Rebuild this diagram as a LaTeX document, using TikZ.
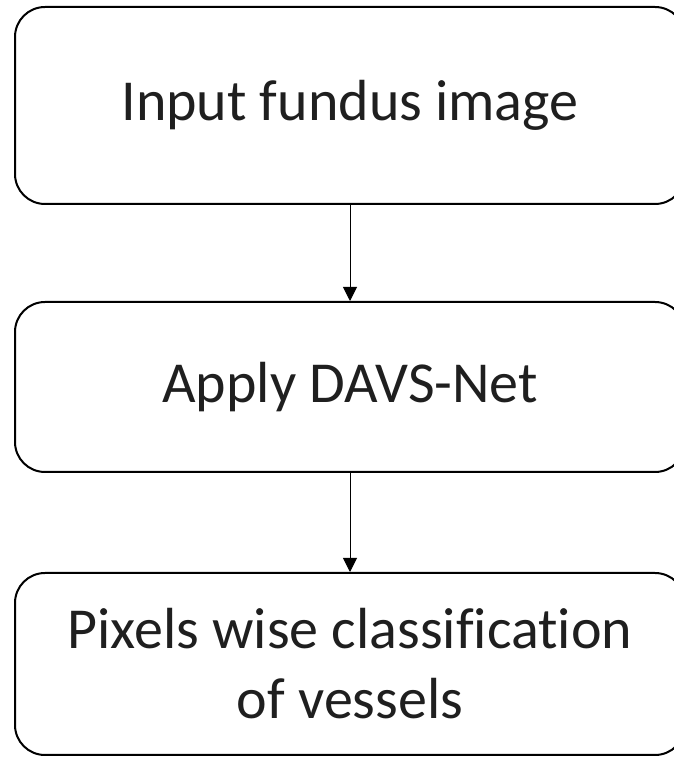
\documentclass[tikz,border=0pt]{standalone}
\usepackage{fontspec}
\setmainfont{Carlito}[Ligatures=NoCommon]
\usepackage{tikz}
\usetikzlibrary{arrows.meta}

\begin{document}
\begin{tikzpicture}[x=1pt, y=1pt,
		stepbox/.style={draw, rectangle, rounded corners=30pt, line width=2pt, minimum width=670pt, align=center, text=black!88, font=\fontsize{58}{70}\selectfont},
		flow/.style={-{Triangle[length=14pt, width=14pt]}, line width=1pt}]
				\useasboundingbox (0, 0) rectangle (674, 758);
				\node[stepbox, minimum height=197pt] (I)at(350, 652.5) {Input fundus image};
				\node[stepbox, minimum height=170pt] (D)at(350, 371) {Apply DAVS-Net};
				\node[stepbox, minimum height=182pt] (P)at(350, 94) {Pixels wise classification\\of vessels};
				\draw[flow] (I) -- (D);
				\draw[flow] (D) -- (P);
			\end{tikzpicture}
\end{document}
